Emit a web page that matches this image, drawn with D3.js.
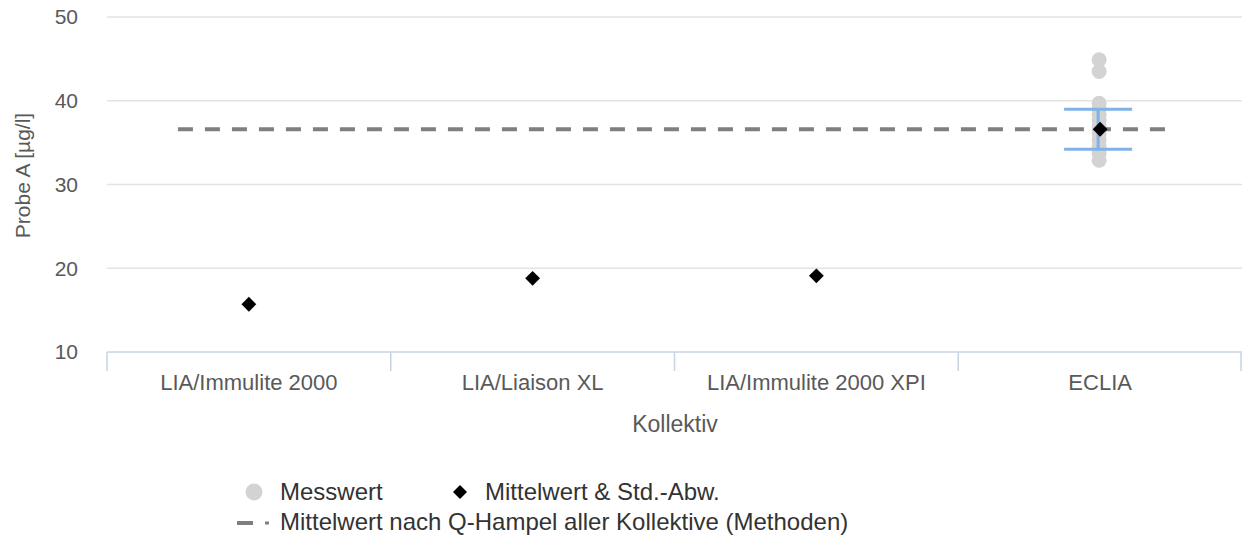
<!DOCTYPE html>
<html><head><meta charset="utf-8">
<script src="https://cdn.jsdelivr.net/npm/d3@7"></script>
<style>body{margin:0;background:#fff;} svg{display:block;font-family:"Liberation Sans",Arial,sans-serif;}</style>
</head><body>
<svg id="c" width="1242" height="537"></svg>
<script>
const categories = ["LIA/Immulite 2000","LIA/Liaison XL","LIA/Immulite 2000 XPI","ECLIA"];
const means = [15.7, 18.8, 19.1, 36.6];
const sds = [null, null, null, 2.4];
const measuredCat = ["ECLIA","ECLIA","ECLIA","ECLIA","ECLIA","ECLIA","ECLIA","ECLIA","ECLIA","ECLIA","ECLIA","ECLIA"];
const measuredVal = [44.9, 43.5, 39.7, 39.1, 38.4, 37.7, 36.9, 36.1, 35.3, 34.5, 33.7, 32.9];
const hampelMean = 36.6;
const yTicks = [10,20,30,40,50];

const svg = d3.select("#c");
const x = d3.scaleBand().domain(categories).range([107,1242]);
const y = d3.scaleLinear().domain([10,50]).range([352,17]);

// gridlines
svg.append("g").selectAll("line").data(yTicks.filter(t=>t>10)).join("line")
  .attr("x1",107).attr("x2",1242).attr("y1",d=>y(d)).attr("y2",d=>y(d))
  .attr("stroke","#e3e3e3").attr("stroke-width",1.5);

// y axis labels
svg.append("g").selectAll("text").data(yTicks).join("text")
  .attr("x",78).attr("y",d=>y(d)).attr("dy","0.35em").attr("text-anchor","end")
  .attr("fill","#595959").style("font-size","21px").text(d=>d);

// x axis line and ticks
const bounds = categories.map(c=>x(c)).concat([x.range()[1]-1]);
svg.append("line").attr("x1",107).attr("x2",1242).attr("y1",y(10)).attr("y2",y(10))
  .attr("stroke","#c8d3e6").attr("stroke-width",1.5);
svg.append("g").selectAll("line").data(bounds).join("line")
  .attr("x1",d=>d).attr("x2",d=>d).attr("y1",y(10)).attr("y2",y(10)+19)
  .attr("stroke","#c8d3e6").attr("stroke-width",1.5);
svg.append("g").selectAll("text").data(categories).join("text")
  .attr("x",d=>x(d)+x.bandwidth()/2).attr("y",390).attr("text-anchor","middle")
  .attr("fill","#595959").style("font-size","22px").text(d=>d);

// axis titles
svg.append("text").attr("x",675).attr("y",432).attr("text-anchor","middle")
  .attr("fill","#595959").style("font-size","23px").text("Kollektiv");
svg.append("text").attr("transform",`translate(30,${y(30)-9}) rotate(-90)`).attr("text-anchor","middle")
  .attr("fill","#595959").style("font-size","21px").text("Probe A [µg/l]");

// measured points
svg.append("g").selectAll("circle").data(measuredVal).join("circle")
  .attr("cx",(d,i)=>x(measuredCat[i])+x.bandwidth()/2-1).attr("cy",d=>y(d)).attr("r",7.5)
  .attr("fill","#d3d3d3");

// hampel dashed line
const bw = x.bandwidth();
svg.append("line").attr("x1",x(categories[0])+bw/2-bw*0.25).attr("x2",x(categories[3])+bw/2+bw*0.25)
  .attr("y1",y(hampelMean)).attr("y2",y(hampelMean))
  .attr("stroke","#7f7f7f").attr("stroke-width",4).attr("stroke-dasharray","15,12");

// error bars
const eb = svg.append("g");
categories.forEach((c,i)=>{
  if(sds[i]==null) return;
  const cx = x(c)+bw/2-2;
  const hi = y(means[i]+sds[i]), lo = y(means[i]-sds[i]);
  eb.append("line").attr("x1",cx).attr("x2",cx).attr("y1",hi).attr("y2",lo).attr("stroke","#7fb2e8").attr("stroke-width",3);
  [hi,lo].forEach(v=>eb.append("line").attr("x1",cx-34).attr("x2",cx+34).attr("y1",v).attr("y2",v).attr("stroke","#7fb2e8").attr("stroke-width",3));
});

// mean diamonds
const dsym = d3.symbol().type(d3.symbolDiamond2).size(140);
svg.append("g").selectAll("path").data(means).join("path")
  .attr("d",dsym).attr("transform",(d,i)=>`translate(${x(categories[i])+bw/2},${y(d)})`)
  .attr("fill","#000");

// legend
const lg = svg.append("g").style("font-size","24px").attr("fill","#333");
lg.append("circle").attr("cx",254).attr("cy",492).attr("r",8.5).attr("fill","#d3d3d3");
lg.append("text").attr("x",280).attr("y",500).text("Messwert");
lg.append("path").attr("d",d3.symbol().type(d3.symbolDiamond2).size(125)).attr("transform","translate(460,492)").attr("fill","#000");
lg.append("text").attr("x",485).attr("y",500).text("Mittelwert & Std.-Abw.");
lg.append("line").attr("x1",237).attr("x2",253).attr("y1",523).attr("y2",523).attr("stroke","#7f7f7f").attr("stroke-width",4);
lg.append("line").attr("x1",265).attr("x2",269).attr("y1",523).attr("y2",523).attr("stroke","#7f7f7f").attr("stroke-width",3);
lg.append("text").attr("x",280).attr("y",530).text("Mittelwert nach Q-Hampel aller Kollektive (Methoden)");
</script>
</body></html>
